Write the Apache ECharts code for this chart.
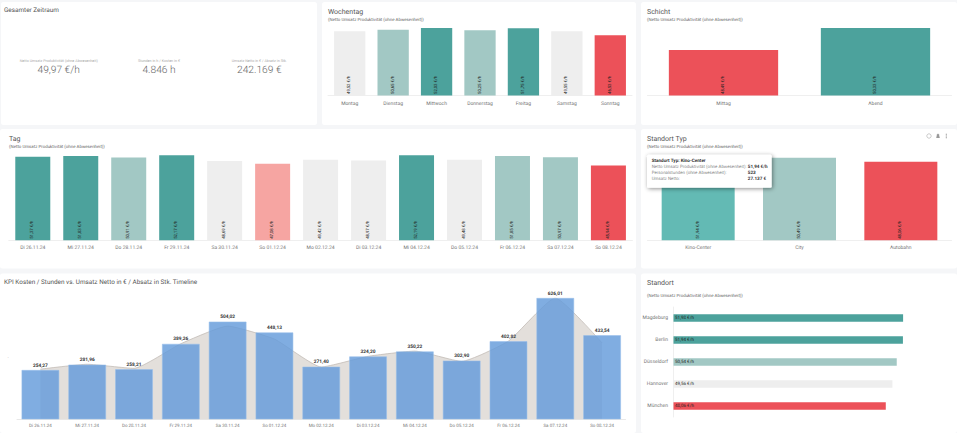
<!DOCTYPE html>
<html><head><meta charset="utf-8">
<script src="https://cdn.jsdelivr.net/npm/echarts@6/dist/echarts.min.js"></script>
<style>html,body{margin:0;padding:0;background:#f5f6f8}#c{width:957px;height:433px}svg text{text-rendering:geometricPrecision}</style>
</head><body><div id="c"></div>
<script>
const wochentagCats = ['Montag','Dienstag','Mittwoch','Donnerstag','Freitag','Samstag','Sonntag'];
const wochentagVals = [49.52,50.65,52.03,50.25,51.75,49.55,46.53];
const schichtCats = ['Mittag','Abend'];
const schichtVals = [48.49,50.33];
const tagCats = ['Di 26.11.24','Mi 27.11.24','Do 28.11.24','Fr 29.11.24','Sa 30.11.24','So 01.12.24','Mo 02.12.24','Di 03.12.24','Mi 04.12.24','Do 05.12.24','Fr 06.12.24','Sa 07.12.24','So 08.12.24'];
const tagVals = [51.37,51.83,50.91,52.17,48.69,47.08,49.42,48.97,52.19,49.48,51.85,50.97,45.94];
const typCats = ['Kino-Center','City','Autobahn'];
const typVals = [51.94,50.49,48.06];
const standortCats = ['Magdeburg','Berlin','Düsseldorf','Hannover','München'];
const standortVals = [51.98,51.94,50.54,49.56,48.06];
const kpiBars = [254.27,281.96,258.21,389.26,504.02,448.13,271.40,324.20,350.22,302.90,402.82,626.01,433.54];
const kpiArea = [259,284,263,390,481,414,270,325,352,299,404,626,394];

const T='#4ca29c',L='#a2c8c4',G='#eeeeee',R='#ec5159',S='#f6a5a2',K='#63bab4';
const wochentagColors=[G,L,T,L,T,G,R];
const schichtColors=[R,T];
const tagColors=[T,T,L,T,G,S,G,G,T,G,L,L,R];
const typColors=[K,L,R];
const standortColors=[T,T,L,G,R];

const FF='Roboto';
const de=(v,d=2)=>v.toLocaleString('de-DE',{minimumFractionDigits:d,maximumFractionDigits:d});
const cards=[[1,2,316,123],[322,2,314,123],[641,2,316,123],[0,129,636,139.5],[641,129,316,139.5],[0,273.5,636,159.5],[641,273.5,316,159.5]];

const titles=[], grids=[], xAxes=[], yAxes=[], series=[];
function t(x,y,text,size,color,align,weight){
  titles.push({text,left:x,top:y-size*0.6,padding:0,textAlign:align||'left',
    textStyle:{fontFamily:FF,fontSize:size,color,fontWeight:weight||'normal',lineHeight:size*1.2}});
}
function barLabel(){return {show:true,rotate:90,position:'insideBottom',align:'left',verticalAlign:'middle',distance:1.5,
  fontFamily:FF,fontSize:4.3,color:'#222',formatter:p=>de(p.value)+' €/h'};}
function colBars(box,cats,vals,colors,min,max,barWidth){
  const i=grids.length;
  grids.push({left:box[0],top:box[1],width:box[2]-box[0],height:box[3]-box[1]});
  xAxes.push({gridIndex:i,type:'category',data:cats,axisTick:{show:false},axisLine:{lineStyle:{color:'#efefef',width:1}},
    axisLabel:{fontFamily:FF,fontSize:5,color:'#777',margin:5.5,interval:0}});
  yAxes.push({gridIndex:i,type:'value',min,max,show:false});
  series.push({type:'bar',xAxisIndex:i,yAxisIndex:i,barWidth,silent:true,animation:false,label:barLabel(),
    data:vals.map((v,k)=>({value:v,itemStyle:{color:colors[k],borderColor:colors[k],borderWidth:0}}))});
}
t(4,10.3,'Gesamter Zeitraum',6.4,'#555');
[[58.7,'Netto Umsatz Produktivität (ohne Abwesenheit)','49,97 €/h'],[159,'Stunden in h / Kosten in €','4.846 h'],[259.3,'Umsatz Netto in € / Absatz in Stk.','242.169 €']]
 .forEach(a=>{t(a[0],61,a[1],3.7,'#aaa','center');t(a[0],71,a[2],10.2,'#666','center',300);});
t(328,12.3,'Wochentag',7,'#555'); t(328,20.3,'(Netto Umsatz Produktivität (ohne Abwesenheit))',4.4,'#666');
t(647,12.3,'Schicht',7,'#555'); t(647,20.3,'(Netto Umsatz Produktivität (ohne Abwesenheit))',4.4,'#666');
t(9,139.5,'Tag',7,'#555'); t(9,147.3,'(Netto Umsatz Produktivität (ohne Abwesenheit))',4.4,'#666');
t(647,139.5,'Standort Typ',7,'#555'); t(647,147.3,'(Netto Umsatz Produktivität (ohne Abwesenheit))',4.4,'#666');
t(4,282,'KPI Kosten / Stunden vs. Umsatz Netto in € / Absatz in Stk. Timeline',6.4,'#555');
t(647,283.5,'Standort',7,'#555'); t(647,296.8,'(Netto Umsatz Produktivität (ohne Abwesenheit))',4.4,'#666');

colBars([328,28,632,95.5],wochentagCats,wochentagVals,wochentagColors,0,52.03,31.3);
colBars([647.5,28,951.5,95.5],schichtCats,schichtVals,schichtColors,44.69,50.33,109.3);
colBars([8.8,155,632.4,240.3],tagCats,tagVals,tagColors,0,52.4,35);
colBars([647.5,155.3,951.5,240.3],typCats,typVals,typColors,0,51.94,73);

// Standort horizontal bars
{const i=grids.length;
 grids.push({left:673.5,top:307,width:229.6,height:110});
 xAxes.push({gridIndex:i,type:'value',min:0,max:51.98,show:false});
 yAxes.push({gridIndex:i,type:'category',inverse:true,data:standortCats,axisTick:{show:false},
   axisLine:{lineStyle:{color:'#efefef'}},axisLabel:{fontFamily:FF,fontSize:5,color:'#777',margin:5.5,interval:0}});
 series.push({type:'bar',xAxisIndex:i,yAxisIndex:i,barWidth:7.3,silent:true,animation:false,
   label:{show:true,position:'insideLeft',distance:1.5,fontFamily:FF,fontSize:4.5,color:'#222',formatter:p=>de(p.value)+' €/h'},
   data:standortVals.map((v,k)=>({value:v,itemStyle:{color:standortColors[k]}}))});
}
// KPI timeline
{const i=grids.length;
 grids.push({left:17,top:298,width:608.5,height:121.3});
 xAxes.push({gridIndex:i,type:'category',data:tagCats,axisTick:{show:false},axisLine:{lineStyle:{color:'#e8e8e8'}},
   axisLabel:{fontFamily:FF,fontSize:4.5,color:'#777',margin:5,interval:0}});
 yAxes.push({gridIndex:i,type:'value',min:0,max:626.01,show:false});
 series.push({type:'line',xAxisIndex:i,yAxisIndex:i,data:kpiArea,smooth:0.15,symbol:'none',silent:true,animation:false,z:1,
   lineStyle:{color:'#bdb6b0',width:0.7},areaStyle:{color:'#e3dfdb',opacity:1}});
 series.push({type:'bar',xAxisIndex:i,yAxisIndex:i,data:kpiBars,barWidth:37.6,silent:true,animation:false,z:2,
   itemStyle:{color:'rgba(100,155,218,0.82)',borderColor:'rgba(150,190,235,0.9)',borderWidth:0.6},
   label:{show:true,position:'top',distance:1.5,fontFamily:FF,fontSize:4.8,fontWeight:'bold',color:'#333',formatter:p=>de(p.value)}});
}

const gfx=cards.map(c=>({type:'rect',z:-1,silent:true,shape:{x:c[0],y:c[1],width:c[2],height:c[3],r:2.5},style:{fill:'#fff'}}));
// tooltip
const tx=(x,y,text,size,fill,weight)=>({type:'text',z:101,silent:true,style:{x,y,text,fill,font:(weight||'normal')+' '+size+'px '+FF,textVerticalAlign:'middle'}});
gfx.push({type:'rect',z:100,silent:true,shape:{x:647,y:154.7,width:124.7,height:33,r:1.5},
  style:{fill:'#fff',shadowBlur:4,shadowColor:'rgba(0,0,0,0.45)',shadowOffsetX:1,shadowOffsetY:1}});
gfx.push(tx(651.7,161.7,'Standort Typ: Kino-Center',4.6,'#333','bold'));
[['Netto Umsatz Produktivität (ohne Abwesenheit):','51,94 €/h',167.4],['Personalstunden (ohne Abwesenheit):','523',173.4],['Umsatz Netto:','27.137 €',179.6]]
 .forEach(r=>{gfx.push(tx(651.7,r[2],r[0],4.45,'#888'));gfx.push(tx(747.8,r[2],r[1],4.6,'#333','bold'));});
// icons
gfx.push({type:'circle',z:5,silent:true,shape:{cx:929,cy:136,r:2.2},style:{fill:'none',stroke:'#aaa',lineWidth:0.6}});
gfx.push({type:'polygon',z:5,silent:true,shape:{points:[[936.2,138],[939.8,138],[939,134.5],[938,133.6],[937,134.5]]},style:{fill:'#999'}});
[134.2,136,137.8].forEach(y=>gfx.push({type:'rect',z:5,silent:true,shape:{x:945.8,y:y-0.5,width:1,height:1},style:{fill:'#888'}}));
gfx.push(tx(7.4,358,'·',5,'#999'));

const chart=echarts.init(document.getElementById('c'),null,{renderer:'svg'});
chart.setOption({animation:false,backgroundColor:'#f5f6f8',title:titles,grid:grids,xAxis:xAxes,yAxis:yAxes,series,graphic:gfx});
</script></body></html>
